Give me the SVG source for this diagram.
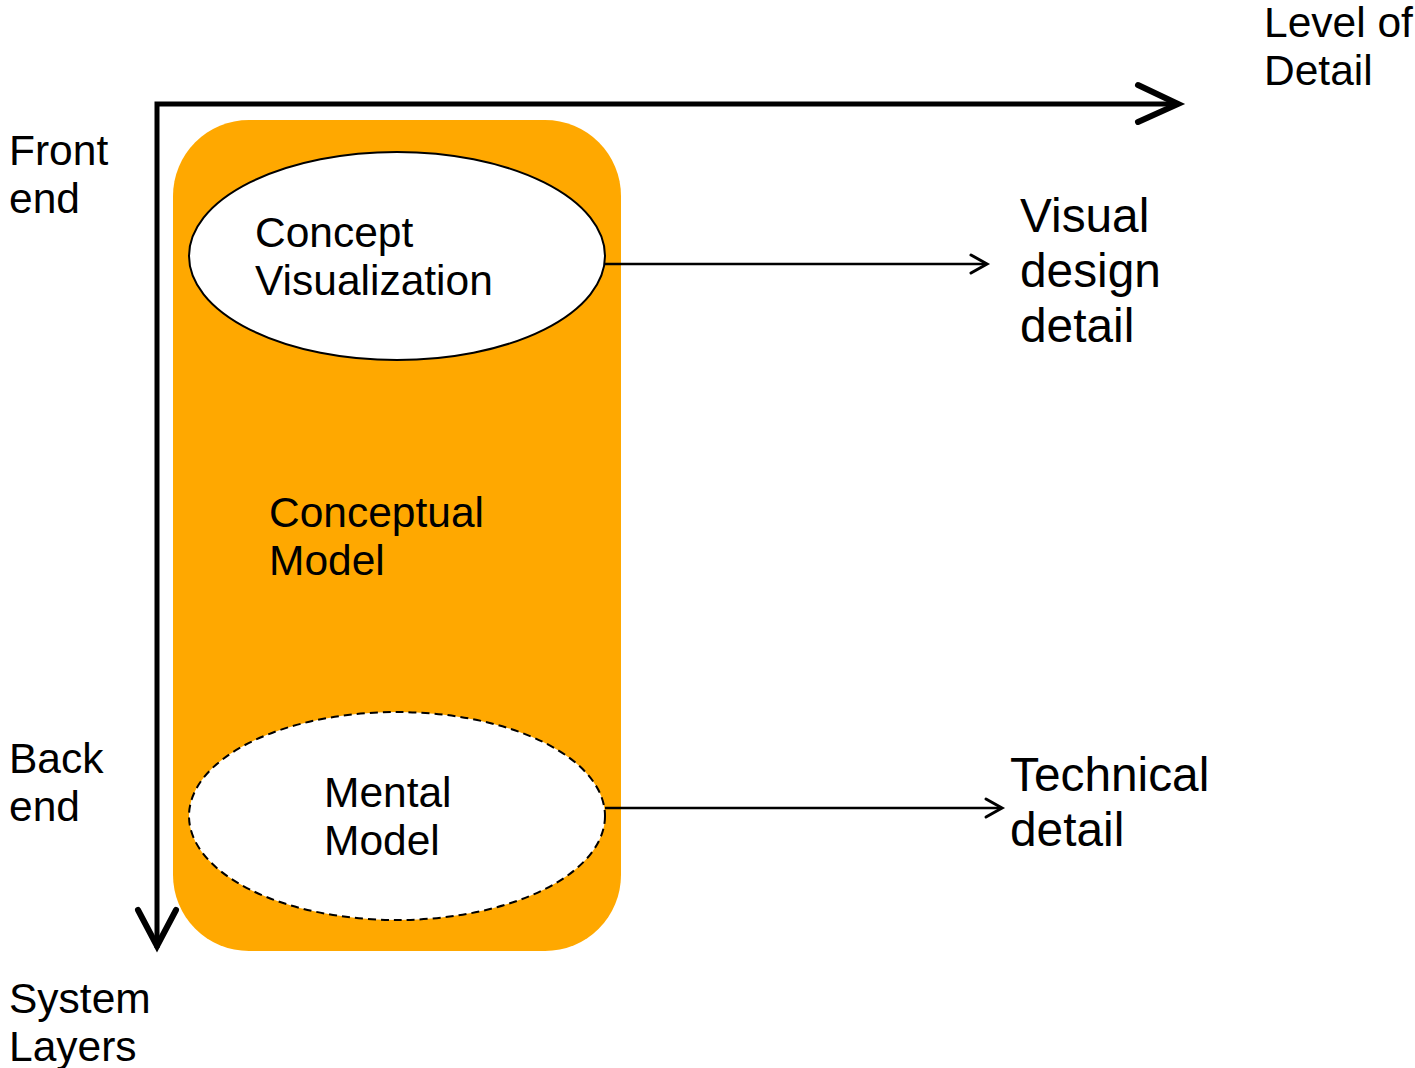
<svg xmlns="http://www.w3.org/2000/svg" width="1415" height="1068" viewBox="0 0 1415 1068">
<style>
text{font-family:"Liberation Sans",Arial,sans-serif;fill:#000}
.t40{font-size:42.5px}
.t46{font-size:47.8px}
.axis{fill:none;stroke:#000;stroke-width:5}
.axhead{fill:none;stroke:#000;stroke-width:6;stroke-linecap:round;stroke-linejoin:miter}
.conn{fill:none;stroke:#000;stroke-width:2.5}
.head{fill:none;stroke:#000;stroke-width:3;stroke-linecap:round}
</style>
<rect width="1415" height="1068" fill="#fff"/>
<g id="conceptual-model">
<rect x="173" y="120" width="448" height="831" rx="76" ry="76" fill="#FFA800"/>
<text class="t40" x="269" y="527">Conceptual</text>
<text class="t40" x="269" y="575">Model</text>
</g>
<g id="axes">
<polyline class="axis" points="157,948 157,104 1178,104"/>
<polyline class="axhead" points="1138,85 1178,104 1138,122"/>
<polyline class="axhead" points="138,910 157,946 176,910"/>
</g>
<g id="concept-visualization">
<ellipse cx="397" cy="256" rx="208" ry="104" fill="#fff" stroke="#000" stroke-width="2"/>
<text class="t40" x="255" y="247">Concept</text>
<text class="t40" x="255" y="295">Visualization</text>
</g>
<g id="mental-model">
<ellipse cx="397" cy="816" rx="208" ry="104" fill="#fff" stroke="#000" stroke-width="2" stroke-dasharray="8,5"/>
<text class="t40" x="324" y="807">Mental</text>
<text class="t40" x="324" y="855">Model</text>
</g>
<g id="connectors">
<line class="conn" x1="605" y1="264" x2="986" y2="264"/>
<polyline class="head" points="971,255 987,264 971,273"/>
<line class="conn" x1="605" y1="808" x2="1001" y2="808"/>
<polyline class="head" points="986,799 1002,808 986,817"/>
</g>
<g id="labels">
<text class="t40" x="1264" y="37">Level of</text>
<text class="t40" x="1264" y="85">Detail</text>
<text class="t40" x="9" y="165">Front</text>
<text class="t40" x="9" y="213">end</text>
<text class="t40" x="9" y="773">Back</text>
<text class="t40" x="9" y="821">end</text>
<text class="t40" x="9" y="1013">System</text>
<text class="t40" x="9" y="1061">Layers</text>
</g>
<g id="visual-design-detail">
<text class="t46" x="1020" y="232">Visual</text>
<text class="t46" x="1020" y="287">design</text>
<text class="t46" x="1020" y="342">detail</text>
</g>
<g id="technical-detail">
<text class="t46" x="1010" y="791">Technical</text>
<text class="t46" x="1010" y="846">detail</text>
</g>
</svg>
